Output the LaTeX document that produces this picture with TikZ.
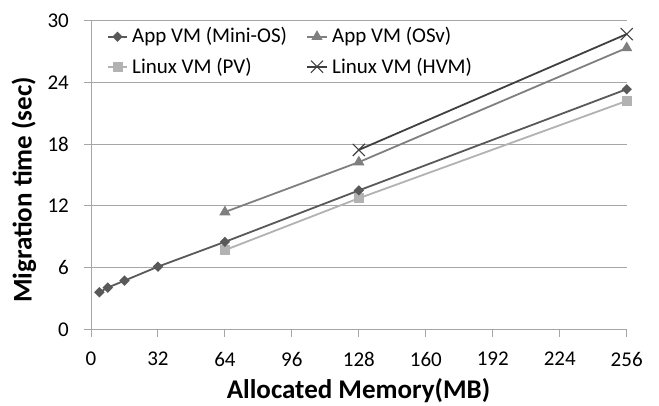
\documentclass[tikz,border=0pt]{standalone}
\usepackage{fontspec}
\setmainfont{Carlito}
\usetikzlibrary{shapes.geometric,shapes.misc,calc}
\definecolor{gridgray}{HTML}{A6A6A6}
\definecolor{miniC}{HTML}{595959}
\definecolor{osvC}{HTML}{7F7F7F}
\definecolor{pvC}{HTML}{B2B2B2}
\definecolor{hvmC}{HTML}{404040}
\tikzset{
  grid line/.style={draw=gridgray, line width=1pt},
  tick label/.style={font=\fontsize{21}{23}\selectfont, inner sep=0pt},
  axis title/.style={font=\bfseries\fontsize{27}{29}\selectfont, inner sep=0pt},
  legend text/.style={font=\fontsize{21}{23}\selectfont, anchor=west, inner sep=0pt},
  series/.style={line width=1.8pt},
  mk mini/.style={diamond, fill=miniC, inner sep=0pt, minimum size=10.5pt},
  mk osv/.style={regular polygon, regular polygon sides=3, fill=osvC, inner sep=0pt, minimum size=13pt},
  mk pv/.style={rectangle, fill=pvC, inner sep=0pt, minimum size=10pt},
  mk hvm/.style={cross out, draw=hvmC, line width=1.1pt, inner sep=0pt, minimum size=11pt},
}
\begin{document}
\begin{tikzpicture}[x=1pt, y=-1pt]
\useasboundingbox (0,0) rectangle (659,405);
\fill[white] (0,0) rectangle (659,405);

% horizontal grid lines and y labels
\foreach \v [count=\i from 0] in {0,6,12,18,24,30} {
  \pgfmathsetmacro{\yy}{329.3-\v*10.287}
  \draw[grid line] (84,\yy) -- (626.7,\yy);
  \node[tick label, anchor=east] (ylab\i) at (69,\yy) {\v};
}
% y axis
\draw[grid line] (91,20.7) -- (91,329.3);
% x ticks and labels
\foreach \v [count=\i from 0] in {0,32,64,96,128,160,192,224,256} {
  \pgfmathsetmacro{\xx}{91+\v*2.0926}
  \draw[grid line] (\xx,329.3) -- (\xx,336.5);
  \node[tick label, anchor=center] (xlab\i) at (\xx,359) {\v};
}

\node[axis title] (xtitle) at (358.5,391) {Allocated Memory(MB)};
\node[axis title, rotate=90] (ytitle) at (24,190) {Migration time (sec)};

% data
\begin{scope}[shift={(91,329.3)}, x=2.0926pt, y=10.287pt]
  % App VM (Mini-OS)
  \coordinate (m1) at (4,3.60);
  \coordinate (m2) at (8,4.05);
  \coordinate (m3) at (16,4.73);
  \coordinate (m4) at (32,6.09);
  \coordinate (m5) at (64,8.50);
  \coordinate (m6) at (128,13.50);
  \coordinate (m7) at (256,23.34);
  % App VM (OSv)
  \coordinate (o1) at (64,11.40);
  \coordinate (o2) at (128,16.25);
  \coordinate (o3) at (256,27.35);
  % Linux VM (PV)
  \coordinate (p1) at (64,7.70);
  \coordinate (p2) at (128,12.74);
  \coordinate (p3) at (256,22.20);
  % Linux VM (HVM)
  \coordinate (h1) at (128,17.44);
  \coordinate (h2) at (256,28.70);
\end{scope}

\draw[series, pvC] (p1) -- (p2) -- (p3);
\draw[series, miniC] (m1) -- (m2) -- (m3) -- (m4) -- (m5) -- (m6) -- (m7);
\draw[series, osvC] (o1) -- (o2) -- (o3);
\draw[series, hvmC] (h1) -- (h2);

\foreach \c in {p1,p2,p3} \node[mk pv] at (\c) {};
\foreach \c in {m1,m2,m3,m4,m5,m6,m7} \node[mk mini] at (\c) {};
\foreach \c in {o1,o2,o3} \node[mk osv] at (\c) {};
\foreach \c in {h1,h2} \node[mk hvm] at (\c) {};

% legend
\coordinate (la1) at (108,36.7);  \coordinate (lb1) at (127,36.7);
\coordinate (la2) at (307,36.7);  \coordinate (lb2) at (327,36.7);
\coordinate (la3) at (108,66.7);  \coordinate (lb3) at (127,66.7);
\coordinate (la4) at (307,66.7);  \coordinate (lb4) at (327,66.7);
\draw[series, miniC] (la1) -- (lb1);
\node[mk mini] at ($(la1)!0.5!(lb1)$) {};
\draw[series, osvC] (la2) -- (lb2);
\node[mk osv] at ($(la2)!0.5!(lb2)$) {};
\draw[series, pvC] (la3) -- (lb3);
\node[mk pv] at ($(la3)!0.5!(lb3)$) {};
\draw[series, hvmC] (la4) -- (lb4);
\node[mk hvm] at ($(la4)!0.5!(lb4)$) {};
\node[legend text] (lt1) at (132,37) {App VM (Mini-OS)};
\node[legend text] (lt2) at (332,37) {App VM (OSv)};
\node[legend text] (lt3) at (132,67) {Linux VM (PV)};
\node[legend text] (lt4) at (332,67) {Linux VM (HVM)};
\end{tikzpicture}
\end{document}
